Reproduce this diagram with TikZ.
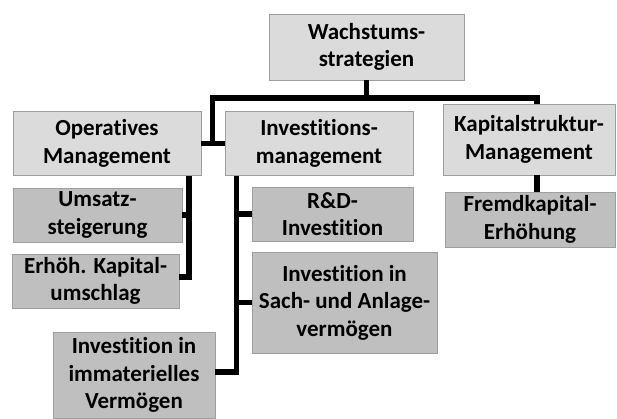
\documentclass[tikz,border=0pt]{standalone}
\usepackage{fontspec}
\setmainfont{Carlito}[Ligatures=CommonOff]
\usepackage{tikz}
\usetikzlibrary{arrows.meta}

\definecolor{boxhell}{gray}{0.86}
\definecolor{boxdunkel}{gray}{0.75}
\definecolor{rahmen}{gray}{0.62}

\tikzset{
    mainbox/.style={draw=rahmen,line width=0.8pt,fill=boxhell,inner sep=0pt,align=center,
        font=\fontsize{23}{27.5}\selectfont\bfseries,text=black},
    subbox/.style={mainbox,fill=boxdunkel},
    verb/.style={line width=5.5pt,black}
}

\begin{document}
\begin{tikzpicture}[x=1pt,y=-1pt,>=Stealth]
        \useasboundingbox (0,0) rectangle (617,419);
        \node [mainbox,minimum width=195pt,minimum height=66pt] (wachs) at (366.5,47) {Wachstums-\\strategien};
        \node [mainbox,minimum width=188pt,minimum height=64pt] (opm) at (107,143.5) {Operatives\\Management};
        \node [mainbox,minimum width=188pt,minimum height=64pt] (inm) at (319,143.5) {Investitions-\\management};
        \node [mainbox,minimum width=172pt,minimum height=71pt] (kap) at (529,139.5) {Kapitalstruktur-\\Management};
        \node [subbox,minimum width=169pt,minimum height=54pt] (ums) at (97.5,215) {Umsatz-\\steigerung};
        \node [subbox,minimum width=167pt,minimum height=54pt] (erh) at (95.5,281) {Erhöh. Kapital-\\umschlag};
        \node [subbox,minimum width=161pt,minimum height=54pt] (rd) at (332.5,214) {R\&D-\\Investition};
        \node [subbox,minimum width=185pt,minimum height=101pt] (sach) at (344.5,302.5) {Investition in\\Sach- und Anlage-\\vermögen};
        \node [subbox,minimum width=162pt,minimum height=86pt] (imm) at (134,375) {Investition in\\immaterielles\\Vermögen};
        \node [subbox,minimum width=170pt,minimum height=55pt] (fremd) at (530,219.5) {Fremdkapital-\\Erhöhung};
        % Knotenpunkte
        \coordinate (jl) at (212.5,98);
        \coordinate (jr) at (537,98);
        \coordinate (ol) at (189,277);
        \coordinate (il) at (236.5,372);
        \draw [verb] (wachs.south) -- (wachs.south |- jl);
        \draw [verb] (jl |- opm.east) -- (jl) -- (jr) -- (jr |- kap.north);
        \draw [verb] (opm.east) -- (inm.west);
        \draw [verb] (jr |- kap.south) -- (jr |- fremd.north);
        \draw [verb] (ol |- opm.south) -- (ol) -- (erh.east |- ol);
        \draw [verb] (ol |- ums.east) -- (ums.east);
        \draw [verb] (il |- inm.south) -- (il) -- (imm.east |- il);
        \draw [verb] (il |- rd.west) -- (rd.west);
        \draw [verb] (il |- sach.west) -- (sach.west);
    \end{tikzpicture}
\end{document}
